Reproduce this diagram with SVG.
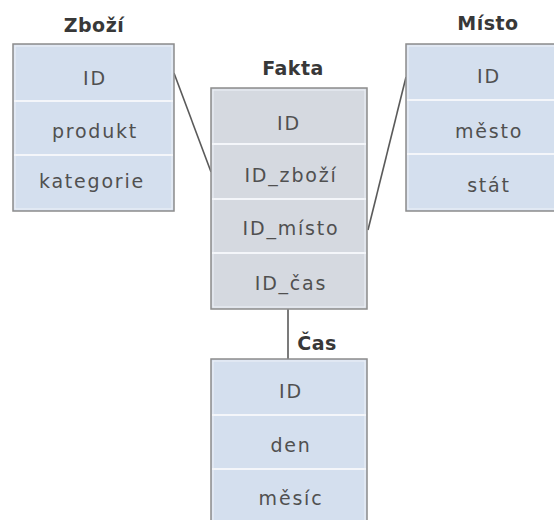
<svg xmlns="http://www.w3.org/2000/svg" width="554" height="520" viewBox="0 0 554 520">
  <style>
    .box { stroke: #8c8c8c; stroke-width: 1.5; }
    .dim { fill: #d4dfee; }
    .fact { fill: #d5d9e0; }
    .inner { fill: none; stroke: #eef2f8; stroke-width: 1; }
    .sep { stroke: #f4f6fa; stroke-width: 2; }
    .title { font-family: "DejaVu Sans", Verdana, sans-serif; font-weight: bold; font-size: 19px; fill: #383838; text-anchor: middle; letter-spacing: 0.5px; }
    .field { font-family: "DejaVu Sans", Verdana, sans-serif; font-size: 19px; fill: #505050; text-anchor: middle; letter-spacing: 1.8px; }
    .link { stroke: #5a5a5a; stroke-width: 1.6; fill: none; }
  </style>

  <!-- connectors -->
  <g id="connectors">
    <line class="link" x1="174" y1="73" x2="211" y2="172"/>
    <line class="link" x1="368" y1="230" x2="406" y2="77"/>
    <line class="link" x1="288" y1="309" x2="288" y2="359"/>
  </g>

  <!-- dimension: Zboží -->
  <g id="zbozi">
    <text class="title" x="94" y="32">Zboží</text>
    <rect class="box dim" x="13" y="44" width="161" height="167"/>
    <rect class="inner" x="15" y="46" width="157" height="163"/>
    <line class="sep" x1="14" y1="101" x2="173" y2="101"/>
    <line class="sep" x1="14" y1="155" x2="173" y2="155"/>
    <text class="field" x="95" y="85">ID</text>
    <text class="field" x="95" y="138">produkt</text>
    <text class="field" x="92" y="188">kategorie</text>
  </g>

  <!-- fact table -->
  <g id="fakta">
    <text class="title" x="293" y="75">Fakta</text>
    <rect class="box fact" x="211" y="88" width="156" height="221"/>
    <rect class="inner" x="213" y="90" width="152" height="217"/>
    <line class="sep" x1="212" y1="144" x2="366" y2="144"/>
    <line class="sep" x1="212" y1="199" x2="366" y2="199"/>
    <line class="sep" x1="212" y1="253" x2="366" y2="253"/>
    <text class="field" x="289" y="130">ID</text>
    <text class="field" x="291" y="182">ID_zboží</text>
    <text class="field" x="291" y="235">ID_místo</text>
    <text class="field" x="291" y="290">ID_čas</text>
  </g>

  <!-- dimension: Místo -->
  <g id="misto">
    <text class="title" x="488" y="30">Místo</text>
    <rect class="box dim" x="406" y="44" width="161" height="167"/>
    <rect class="inner" x="408" y="46" width="157" height="163"/>
    <line class="sep" x1="407" y1="100" x2="566" y2="100"/>
    <line class="sep" x1="407" y1="154" x2="566" y2="154"/>
    <text class="field" x="489" y="83">ID</text>
    <text class="field" x="489" y="138">město</text>
    <text class="field" x="489" y="192">stát</text>
  </g>

  <!-- dimension: Čas -->
  <g id="cas">
    <text class="title" x="317" y="350">Čas</text>
    <rect class="box dim" x="211" y="359" width="156" height="170"/>
    <rect class="inner" x="213" y="361" width="152" height="166"/>
    <line class="sep" x1="212" y1="415" x2="366" y2="415"/>
    <line class="sep" x1="212" y1="469" x2="366" y2="469"/>
    <text class="field" x="291" y="398">ID</text>
    <text class="field" x="291" y="452">den</text>
    <text class="field" x="291" y="505">měsíc</text>
  </g>
</svg>
